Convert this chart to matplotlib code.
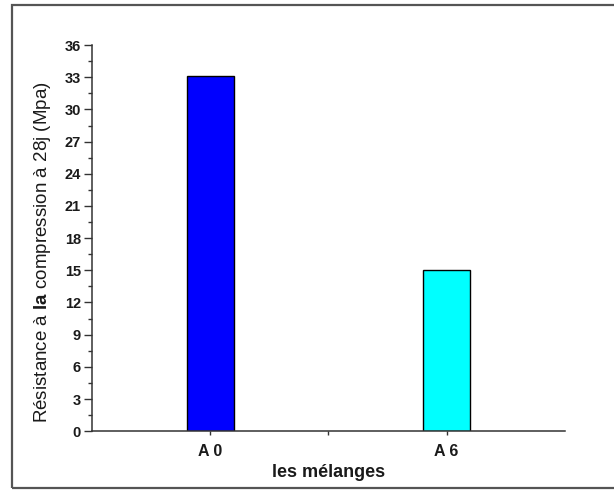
import numpy as np
import matplotlib
matplotlib.use("Agg")
import matplotlib.pyplot as plt
from matplotlib.patches import Rectangle
from matplotlib.ticker import MultipleLocator, FixedLocator

# data
categories = ['A 0', 'A 6']
positions = [1, 2]
values = [33.1, 15.0]
colors = ['#0000ff', '#00ffff']
y_ticks = np.arange(0, 37, 3)

plt.rcParams['font.family'] = 'Liberation Sans'
plt.rcParams['mathtext.fontset'] = 'custom'
plt.rcParams['mathtext.rm'] = 'Liberation Sans'
plt.rcParams['mathtext.bf'] = 'Liberation Sans:bold'

fig = plt.figure(figsize=(6.14, 4.9), dpi=100)
ax = fig.add_axes([0.150, 0.120, 0.770, 0.788])

# outer frame around the figure (right edge is cropped off)
fig.patches.append(Rectangle((12 / 614, 2 / 490), 1.0, 483 / 490,
                             transform=fig.transFigure, fill=False,
                             edgecolor='#555555', linewidth=1.6))

ax.bar(positions, values, width=0.2, color=colors, edgecolor='black', linewidth=1.0)

ax.set_xlim(0.5, 2.5)
ax.set_ylim(0, 36)
ax.set_yticks(y_ticks)
ax.yaxis.set_minor_locator(MultipleLocator(1.5))
ax.set_xticks(positions)
ax.set_xticklabels(categories)
ax.xaxis.set_minor_locator(FixedLocator([1.5]))

for s in ['top', 'right']:
    ax.spines[s].set_visible(False)
for s in ['left', 'bottom']:
    ax.spines[s].set_linewidth(1.1)
    ax.spines[s].set_color('#333333')

ax.tick_params(axis='y', which='major', length=6, width=1.0, labelsize=10.5, colors='#333333', labelcolor='#1a1a1a', pad=2)
ax.tick_params(axis='y', which='minor', length=3, width=1.0, colors='#333333')
ax.tick_params(axis='x', which='both', length=3, width=1.0, labelsize=11.5, colors='#333333', labelcolor='#1a1a1a', pad=6)
for lab in ax.get_xticklabels() + ax.get_yticklabels():
    lab.set_fontweight('bold')

ax.set_xlabel('les mélanges', fontsize=13, fontweight='bold', color='#1a1a1a', labelpad=4)
ax.set_ylabel(r'Résistance à $\mathbf{la}$ compression à 28j (Mpa)', fontsize=13.5, color='#1a1a1a')
ax.yaxis.set_label_coords(-0.083, 0.464)

fig.savefig('out.png', dpi=100)
